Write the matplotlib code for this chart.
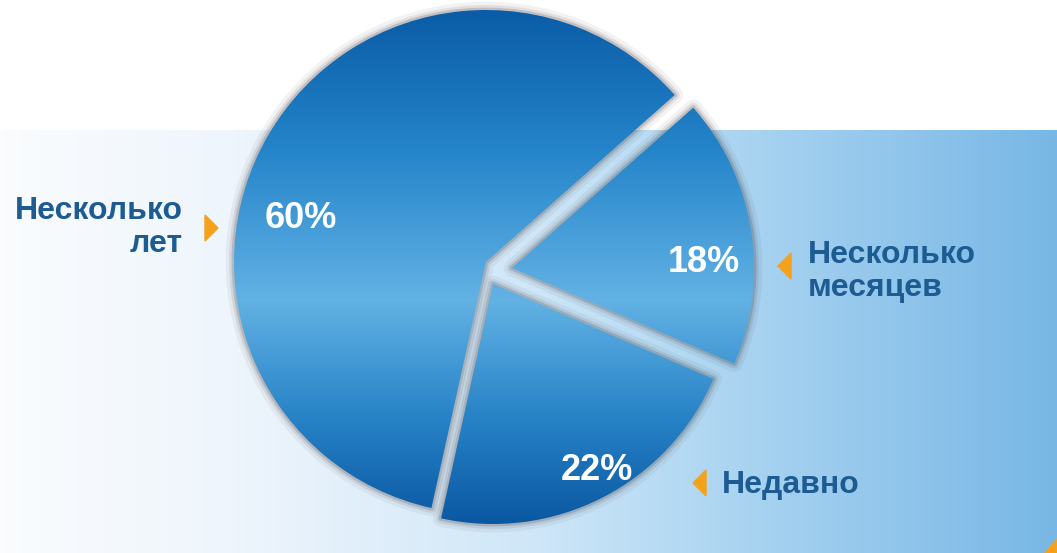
import numpy as np
import matplotlib.pyplot as plt
from matplotlib.patches import Wedge, Polygon
from matplotlib.colors import LinearSegmentedColormap

plt.rcParams['font.family'] = ['Liberation Sans', 'DejaVu Sans']

# данные
labels = ['Несколько\nлет', 'Недавно', 'Несколько\nмесяцев']
shares = [60, 22, 18]
pct_labels = [f'{v}%' for v in shares]

W, H = 1057, 553
start_angle = 41.5

# геометрия (в пикселях картинки, y вниз)
centers = [(486, 262), (493, 284), (512, 268)]
radii = [252, 240, 242]
pct_pos = [(301, 218), (597, 470), (704, 262)]
label_pos = [(183, 219, 'right'), (722, 493, 'left'), (808, 263, 'left')]
arrow_pos = [(211, 228, 1), (700, 483, -1), (785, 266, -1)]
line_step = 33

text_color = '#1d5b93'
orange = '#f4a21c'


def fy(y):
    # перевод y картинки в координаты осей
    return H - y


fig = plt.figure(figsize=(W / 100, H / 100), dpi=100)
ax = fig.add_axes([0, 0, 1, 1])
ax.set_xlim(0, W)
ax.set_ylim(0, H)
ax.axis('off')

# фон: голубая панель с горизонтальным градиентом
bg_cmap = LinearSegmentedColormap.from_list(
    'bg', [(0, '#fafcfe'), (0.22, '#eef5fc'), (0.5, '#d0e7f8'),
           (0.7, '#aad4f1'), (1, '#78b7e5')])
ax.imshow(np.linspace(0, 1, 256)[None, :], cmap=bg_cmap,
          extent=(0, W, 0, fy(130)), aspect='auto', zorder=0)
ax.add_patch(Polygon([(1044, fy(553)), (W, fy(553)), (W, fy(538))],
                     closed=True, color=orange, zorder=1))

# градиент для секторов (по вертикали)
pie_cmap = LinearSegmentedColormap.from_list(
    'pie', [(0, '#0a5aa3'), (10 / H, '#0a5ca6'), (150 / H, '#2585ca'),
            (300 / H, '#62b2e4'), (420 / H, '#2782c6'), (525 / H, '#0a58a2'),
            (1, '#0a56a0')])
grad = np.linspace(0, 1, H)[:, None]

angle = start_angle
for share, (cx, cy), r in zip(shares, centers, radii):
    t1 = angle
    t2 = angle + 360 * share / 100
    angle = t2
    # мягкая тень
    for lw, a in [(12, 0.06), (7, 0.1), (3.5, 0.18)]:
        ax.add_patch(Wedge((cx, fy(cy)), r, t1, t2, facecolor='none',
                           edgecolor='#3a3234', linewidth=lw, alpha=a,
                           joinstyle='round', zorder=2))
    w = Wedge((cx, fy(cy)), r, t1, t2, facecolor='none', edgecolor='none',
              zorder=3)
    ax.add_patch(w)
    im = ax.imshow(grad, cmap=pie_cmap, extent=(0, W, 0, H), aspect='auto',
                   zorder=3)
    im.set_clip_path(w)

# проценты
for txt, (x, y) in zip(pct_labels, pct_pos):
    ax.text(x, fy(y), txt, color='white', fontsize=26, fontweight='bold',
            ha='center', va='center', zorder=5)

# подписи (построчно, от базовой линии)
for txt, (x, y, ha) in zip(labels, label_pos):
    for i, line in enumerate(txt.split('\n')):
        ax.text(x, fy(y + i * line_step), line, color=text_color, fontsize=23,
                fontweight='bold', ha=ha, va='baseline', zorder=5)

# оранжевые стрелки
for x, y, d in arrow_pos:
    pts = [(x - 6 * d, fy(y - 13)), (x - 6 * d, fy(y + 13)), (x + 7 * d, fy(y))]
    ax.add_patch(Polygon(pts, closed=True, color=orange, zorder=5))

fig.savefig('out.png', dpi=100, facecolor='white')
